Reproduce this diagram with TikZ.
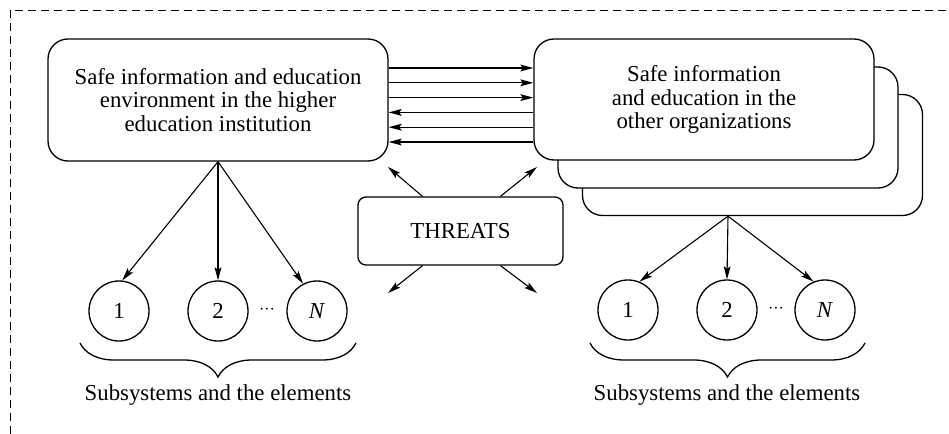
\documentclass[tikz,border=0pt]{standalone}
\usepackage{fontspec}
\setmainfont{Liberation Serif}
\usetikzlibrary{arrows.meta,decorations.pathreplacing,calc}
\begin{document}
\begin{tikzpicture}[x=0.5pt,y=-0.5pt,
  every node/.style={font=\fontsize{11.4pt}{11.8pt}\selectfont},
  bigbox/.style={draw,line width=0.65pt,rounded corners=10pt,minimum width=170pt,minimum height=60.5pt,align=center,inner sep=0pt,fill=white},
  threatbox/.style={draw,line width=0.65pt,rounded corners=4pt,minimum width=102.5pt,minimum height=34pt,inner sep=0pt},
  elem/.style={draw,circle,line width=0.65pt,minimum size=30pt,inner sep=0pt},
  arr/.style={-{Stealth[length=6.5pt,width=3.4pt,inset=1.2pt]},line width=0.55pt},
  bracestyle/.style={decorate,decoration={brace,mirror,amplitude=17pt},line width=0.65pt},
  frame/.style={dash pattern=on 4pt off 2.5pt,line width=0.5pt},
  dotsstyle/.style={font=\fontsize{8pt}{8pt}\selectfont,inner sep=0pt}
]
\useasboundingbox (0,0) rectangle (949,434);
% dashed frame (cut at right and bottom)
\coordinate (fa) at (10,434);
\coordinate (fb) at (10,10);
\coordinate (fc) at (949,10);
\draw[frame] (fa) -- (fb) -- (fc);

% main box
\node[bigbox,minimum height=61pt] (m) at (218,100) {Safe information and education\\environment in the higher\\education institution};

% stacked boxes
\node[bigbox] (b3) at (752.5,155) {};
\node[bigbox] (b2) at (728,127.5) {};
\node[bigbox] (b1) at (704,99.5) {Safe information\\and education in the\\other organizations};

% horizontal arrows
\draw[arr] ([yshift=16pt]m.east) -- ([yshift=16pt]m.east -| b1.west);
\draw[arr] ([yshift=8.6pt]m.east) -- ([yshift=8.6pt]m.east -| b1.west);
\draw[arr] ([yshift=1.2pt]m.east) -- ([yshift=1.2pt]m.east -| b1.west);
\draw[arr] ([yshift=-6.2pt]m.east -| b1.west) -- ([yshift=-6.2pt]m.east);
\draw[arr] ([yshift=-13.6pt]m.east -| b1.west) -- ([yshift=-13.6pt]m.east);
\draw[arr] ([yshift=-21pt]m.east -| b1.west) -- ([yshift=-21pt]m.east);

% threats
\node[threatbox] (t) at (460.5,231) {THREATS};
\coordinate (tnw) at (388,167);
\coordinate (tne) at (537,167);
\coordinate (tsw) at (388,293);
\coordinate (tse) at (537,293);
\draw[arr] ([xshift=-19pt]t.north) -- (tnw);
\draw[arr] ([xshift=20pt]t.north) -- (tne);
\draw[arr] ([xshift=-19pt]t.south) -- (tsw);
\draw[arr] ([xshift=20pt]t.south) -- (tse);

% left elements
\node[elem] (l1) at (119,311) {1};
\node[elem] (l2) at (218,311) {2};
\node[elem] (l3) at (317,311) {\textit{N}};
\node[dotsstyle] (ldots) at (267,311) {···};
\draw[arr] (m.south) -- (l1.84);
\draw[arr] (m.south) -- (l2.north);
\draw[arr] (m.south) -- (l3.117);
\coordinate (lba) at (80,343);
\coordinate (lbb) at (356,343);
\draw[bracestyle] (lba) -- (lbb);
\node (ltxt) at (218,395) {Subsystems and the elements};

% right elements
\coordinate (ro) at (b2.center |- b3.south);
\node[elem] (r1) at (628,310) {1};
\node[elem] (r2) at (727,310) {2};
\node[elem] (r3) at (825,310) {\textit{N}};
\node[dotsstyle] (rdots) at (776,310) {···};
\draw[arr] (ro) -- (r1.68);
\draw[arr] (ro) -- (r2.north);
\draw[arr] (ro) -- (r3.112);
\coordinate (rba) at (590,343);
\coordinate (rbb) at (865,343);
\draw[bracestyle] (rba) -- (rbb);
\node (rtxt) at (727,395) {Subsystems and the elements};
\end{tikzpicture}
\end{document}
